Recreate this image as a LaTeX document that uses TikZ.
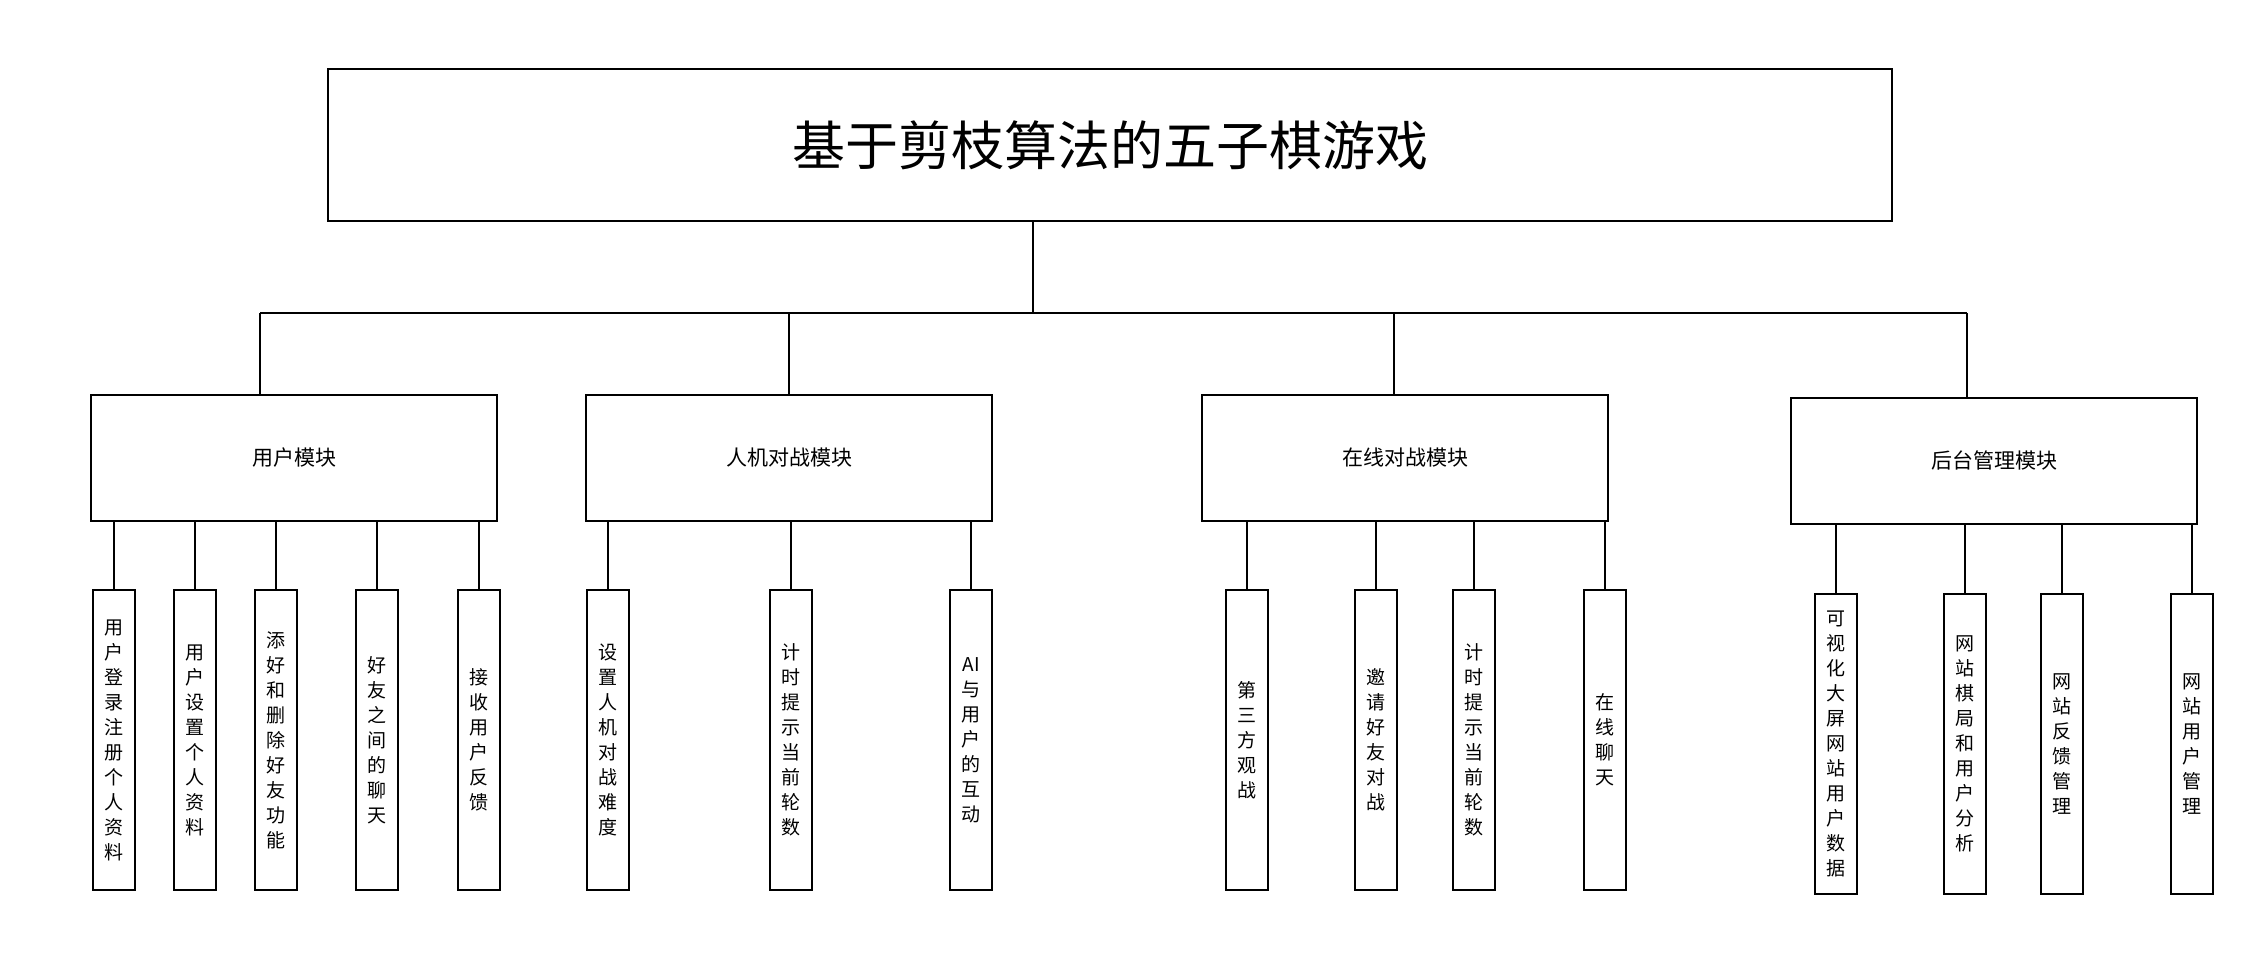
\documentclass[tikz,border=0pt]{standalone}
\usepackage{fontspec}
\setmainfont{Noto Sans CJK SC}

\begin{document}
\begin{tikzpicture}[
    x=0.5pt, y=-0.5pt,
    topbox/.style={draw, line width=0.7pt, minimum width=782pt, minimum height=76pt,
      inner sep=0pt, font=\fontsize{26.5}{30}\selectfont},
    modbox/.style={draw, line width=0.7pt, minimum width=203pt, minimum height=63pt,
      inner sep=0pt, font=\fontsize{10.5}{12}\selectfont},
    leafbox/.style={draw, line width=0.7pt, minimum width=21pt, minimum height=150pt,
      inner sep=0pt, align=center, font=\fontsize{9.5}{12.5}\selectfont},
    link/.style={line width=0.6pt}
  ]
    \useasboundingbox (0,0) rectangle (2263,967);

    % root and modules
    \node[topbox] (game) at (1110,145) {基于剪枝算法的五子棋游戏};
    \node[modbox] (user) at (294,458) {用户模块};
    \node[modbox] (pve) at (789,458) {人机对战模块};
    \node[modbox] (pvp) at (1405,458) {在线对战模块};
    \node[modbox] (admin) at (1994,461) {后台管理模块};

    % bus
    \coordinate (trunk) at (1033,313);
    \coordinate (d1) at (260,313);
    \coordinate (d2) at (789,313);
    \coordinate (d3) at (1394,313);
    \coordinate (d4) at (1967,313);
    \draw[link] (game.south -| trunk) -- (trunk);
    \draw[link] (d1) -- (d4);
    \draw[link] (d1) -- (d1 |- user.north);
    \draw[link] (d2) -- (d2 |- pve.north);
    \draw[link] (d3) -- (d3 |- pvp.north);
    \draw[link] (d4) -- (d4 |- admin.north);

    % user module
    \node[leafbox] (u1) at (114,740) {用\\户\\登\\录\\注\\册\\个\\人\\资\\料};
    \node[leafbox] (u2) at (195,740) {用\\户\\设\\置\\个\\人\\资\\料};
    \node[leafbox] (u3) at (276,740) {添\\好\\和\\删\\除\\好\\友\\功\\能};
    \node[leafbox] (u4) at (377,740) {好\\友\\之\\间\\的\\聊\\天};
    \node[leafbox] (u5) at (479,740) {接\\收\\用\\户\\反\\馈};

    % pve module
    \node[leafbox] (a1) at (608,740) {设\\置\\人\\机\\对\\战\\难\\度};
    \node[leafbox] (a2) at (791,740) {计\\时\\提\\示\\当\\前\\轮\\数};
    \node[leafbox] (a3) at (971,740) {AI\\与\\用\\户\\的\\互\\动};

    % pvp module
    \node[leafbox] (o1) at (1247,740) {第\\三\\方\\观\\战};
    \node[leafbox] (o2) at (1376,740) {邀\\请\\好\\友\\对\\战};
    \node[leafbox] (o3) at (1474,740) {计\\时\\提\\示\\当\\前\\轮\\数};
    \node[leafbox] (o4) at (1605,740) {在\\线\\聊\\天};

    % admin module
    \node[leafbox] (b1) at (1836,744) {可\\视\\化\\大\\屏\\网\\站\\用\\户\\数\\据};
    \node[leafbox] (b2) at (1965,744) {网\\站\\棋\\局\\和\\用\\户\\分\\析};
    \node[leafbox] (b3) at (2062,744) {网\\站\\反\\馈\\管\\理};
    \node[leafbox] (b4) at (2192,744) {网\\站\\用\\户\\管\\理};

    \foreach \m/\leaves in {user/{u1,u2,u3,u4,u5}, pve/{a1,a2,a3},
        pvp/{o1,o2,o3,o4}, admin/{b1,b2,b3,b4}}
      \foreach \l in \leaves
        \draw[link] (\m.south -| \l.north) -- (\l.north);
  \end{tikzpicture}
\end{document}
